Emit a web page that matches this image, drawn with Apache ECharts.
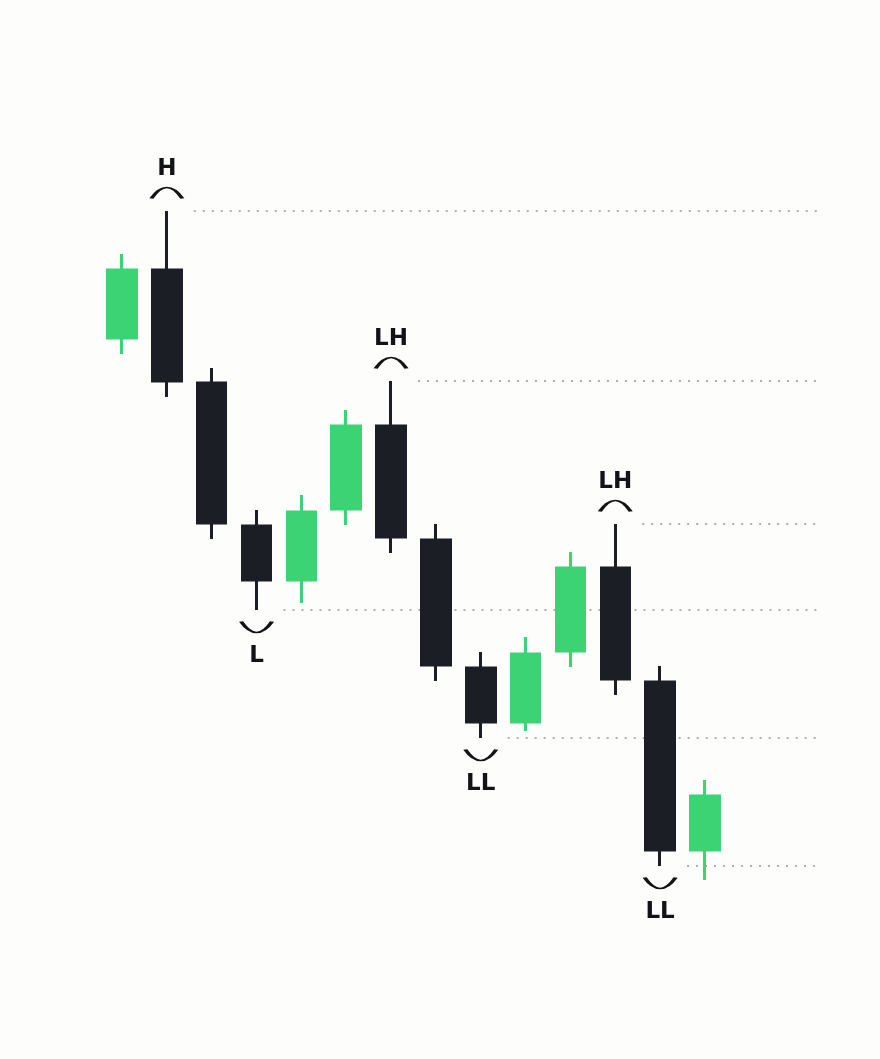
<!DOCTYPE html>
<html>
<head>
<meta charset="utf-8">
<script src="https://cdn.jsdelivr.net/npm/echarts@6/dist/echarts.min.js"></script>
<style>
  html, body { margin: 0; padding: 0; background: #fdfdfb; }
  #chart { width: 880px; height: 1059px; }
</style>
</head>
<body>
<div id="chart"></div>
<script>
// candle values (price units)
var opens  = [62.2, 69.0, 57.7, 43.4, 38.0, 45.1, 53.4, 42.0, 29.2, 23.8, 30.9, 39.2, 27.8, 11.0];
var closes = [69.0, 57.9, 43.7, 38.0, 44.8, 53.4, 42.3, 29.5, 23.8, 30.6, 39.2, 28.1, 11.0, 16.4];
var lows   = [60.6, 56.3, 42.1, 35.0, 35.7, 43.5, 40.7, 27.9, 22.2, 22.9, 29.3, 26.5, 9.4, 8.0];
var highs  = [70.6, 74.9, 59.2, 45.0, 46.5, 55.0, 57.9, 43.6, 30.8, 32.3, 40.8, 43.6, 29.4, 18.0];

// swing points: candle index + label
var highPivots = [1, 6, 11];
var highLabels = ['H', 'LH', 'LH'];
var lowPivots  = [3, 8, 12];
var lowLabels  = ['L', 'LL', 'LL'];

var X_MIN = -0.5, X_MAX = 15.61;
var UP = '#3bd373', DOWN = '#1b1e25', INK = '#111317';

var candleData = opens.map(function (o, i) {
  return [i, o, closes[i], lows[i], highs[i]];
});

// dotted levels from each swing point to the right edge
var levelLines = [];
highPivots.forEach(function (i) {
  levelLines.push([{ coord: [i + 0.6, highs[i]] }, { coord: [X_MAX, highs[i]] }]);
});
lowPivots.forEach(function (i) {
  levelLines.push([{ coord: [i + 0.6, lows[i]] }, { coord: [X_MAX, lows[i]] }]);
});

var labelFont = {
  show: true,
  position: 'inside',
  color: INK,
  fontSize: 23,
  fontWeight: 'bold',
  fontFamily: 'DejaVu Sans'
};

var chart = echarts.init(document.getElementById('chart'));
chart.setOption({
  backgroundColor: '#fdfdfb',
  animation: false,
  grid: { left: 99.6, right: 58, top: 100, bottom: 99 },
  xAxis: { type: 'value', min: X_MIN, max: X_MAX, show: false },
  yAxis: { type: 'value', min: 0, max: 86, show: false },
  series: [
    {
      type: 'candlestick',
      barWidth: 29,
      data: candleData,
      itemStyle: {
        color: UP, color0: DOWN,
        borderColor: UP, borderColor0: DOWN,
        borderWidth: 3
      },
      markLine: {
        z: 1,
        silent: true,
        symbol: ['none', 'none'],
        label: { show: false },
        lineStyle: { color: '#aab0b6', width: 2, type: [2, 7], cap: 'butt', opacity: 1 },
        data: levelLines
      }
    },
    {
      type: 'scatter',
      symbol: 'path://M0,10 Q15,-9 30,10',
      symbolSize: [31, 11],
      symbolOffset: [0, -18],
      itemStyle: { color: 'transparent', borderColor: INK, borderWidth: 2.5, opacity: 1 },
      label: Object.assign({}, labelFont, {
        offset: [0, -24],
        formatter: function (p) { return highLabels[p.dataIndex]; }
      }),
      data: highPivots.map(function (i) { return [i, highs[i]]; })
    },
    {
      type: 'scatter',
      symbol: 'path://M0,0 Q15,19 30,0',
      symbolSize: [31, 11],
      symbolOffset: [0, 17],
      itemStyle: { color: 'transparent', borderColor: INK, borderWidth: 2.5, opacity: 1 },
      label: Object.assign({}, labelFont, {
        offset: [0, 29],
        formatter: function (p) { return lowLabels[p.dataIndex]; }
      }),
      data: lowPivots.map(function (i) { return [i, lows[i]]; })
    }
  ]
});
</script>
</body>
</html>
